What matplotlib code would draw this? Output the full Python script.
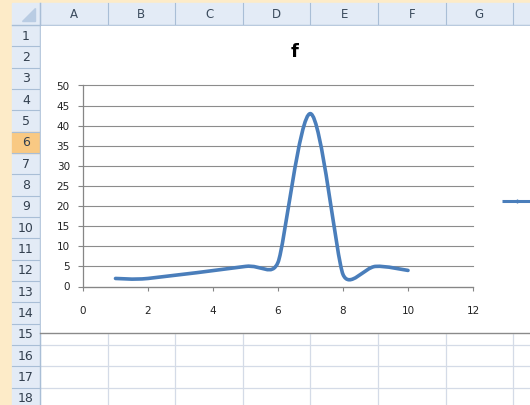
import numpy as np
import matplotlib
matplotlib.use("Agg")
import matplotlib.pyplot as plt
from matplotlib.path import Path
from matplotlib.patches import PathPatch, Rectangle, Polygon

# ---- data ----
x_vals = [1, 2, 5, 6, 7, 8, 9, 10]
y_vals = [2, 2, 5, 6, 43, 3, 5, 4]
chart_title = "f"
x_ticks = [0, 2, 4, 6, 8, 10, 12]
y_ticks = [0, 5, 10, 15, 20, 25, 30, 35, 40, 45, 50]
col_labels = ["A", "B", "C", "D", "E", "F", "G"]
row_labels = [str(i) for i in range(1, 19)]
selected_row = "6"

W, H = 530, 405
fig = plt.figure(figsize=(W / 100, H / 100), dpi=100)

# background axes in pixel coordinates
bg = fig.add_axes([0, 0, 1, 1])
bg.set_xlim(0, W)
bg.set_ylim(H, 0)
bg.axis("off")

beige = "#FDEBC8"
hdr = "#E3EBF6"
hdr_line = "#A9BED6"
cell_line = "#D4DBE7"
bg.add_patch(Rectangle((0, 0), W, H, color=beige, zorder=0))
# cells area
bg.add_patch(Rectangle((40, 25), W - 40, H - 25, color="white", zorder=1))

col_left = 40.0
col_w = 67.6
row_top = 25.0
row_h = 21.33
hdr_top = 3.0

# column header
bg.add_patch(Rectangle((12, hdr_top), W - 12, row_top - hdr_top, color=hdr, zorder=2))
# row header
bg.add_patch(Rectangle((12, row_top), col_left - 12, H - row_top, color=hdr, zorder=2))
# selected row
ri = row_labels.index(selected_row)
bg.add_patch(Rectangle((12, row_top + ri * row_h), col_left - 12, row_h,
                       color="#F9C983", zorder=3))
# corner triangle
bg.add_patch(Polygon([[35, 8], [35, 21], [22, 21]], closed=True,
                     color="#B9CCE3", zorder=3))

# column header separators & labels
for i in range(len(col_labels) + 2):
    xb = col_left + i * col_w
    bg.plot([xb, xb], [hdr_top, row_top], color=hdr_line, lw=0.8, zorder=4)
for i, lab in enumerate(col_labels):
    bg.text(col_left + (i + 0.5) * col_w, 14.5, lab, ha="center", va="center",
            fontsize=8.5, color="#3A4A5C", zorder=5)
bg.plot([12, W], [row_top, row_top], color=hdr_line, lw=1.0, zorder=4)
bg.plot([col_left, col_left], [hdr_top, H], color=hdr_line, lw=1.0, zorder=4)

# row header separators & labels
for i, lab in enumerate(row_labels):
    yt = row_top + i * row_h
    bg.plot([12, col_left], [yt + row_h, yt + row_h], color=hdr_line, lw=0.8, zorder=4)
    bg.text(26, yt + row_h / 2 + 0.5, lab, ha="center", va="center",
            fontsize=9, color="#33404F", zorder=5)

# cell gridlines below chart
chart_bottom = 333
for i in range(16, 19):
    yt = row_top + (i - 1) * row_h
    bg.plot([col_left, W], [yt, yt], color=cell_line, lw=0.9, zorder=2)
for i in range(1, len(col_labels) + 2):
    xb = col_left + i * col_w
    bg.plot([xb, xb], [chart_bottom, H], color=cell_line, lw=0.9, zorder=2)

# chart area (white) and its bottom border
bg.add_patch(Rectangle((col_left + 0.5, row_top + 0.5), W - col_left, chart_bottom - row_top - 0.5,
                       color="white", zorder=6))
bg.plot([col_left, W], [chart_bottom, chart_bottom], color="#8A8A8A", lw=1.0, zorder=7)

# legend stub at right
bg.plot([502, W], [201, 201], color="#4A7EBB", lw=2.2, zorder=8, solid_capstyle="butt")
bg.plot([517], [201], marker="|", ms=3, color="#4A7EBB", zorder=8)

# title
fig.text(295 / W, 1 - 52 / H, chart_title, ha="center", va="center",
         fontsize=13, fontweight="bold", color="black")

# ---- plot axes ----
x0, x1 = 83, 473
y0, y1 = 286.5, 85.5
ax = fig.add_axes([x0 / W, (H - y0) / H, (x1 - x0) / W, (y0 - y1) / H])
ax.set_facecolor("none")
ax.set_xlim(0, 12)
ax.set_ylim(0, 50)
ax.set_xticks(x_ticks)
ax.set_yticks(y_ticks)
ax.set_xticklabels([str(t) for t in x_ticks])
ax.set_yticklabels([str(t) for t in y_ticks])
for s in ["top", "right"]:
    ax.spines[s].set_visible(False)
for s in ["left", "bottom"]:
    ax.spines[s].set_color("#868686")
    ax.spines[s].set_linewidth(0.9)
ax.yaxis.grid(True, color="#8C8C8C", lw=0.8)
for gl in ax.get_ygridlines():
    gl.set_clip_on(False)
ax.set_axisbelow(True)
ax.tick_params(axis="y", length=3.5, width=0.8, color="#868686", pad=6,
               labelsize=7.5, labelcolor="#222222")
ax.tick_params(axis="x", length=3.2, width=0.8, color="#868686", pad=11,
               labelsize=7.5, labelcolor="#222222")

# Excel-style smoothed line (Bezier through data points)
P = ax.transData.transform(np.column_stack([x_vals, y_vals]))
n = len(P)


def ctrl_factor(a, b, c):
    dac = np.hypot(*(c - a))
    if dac == 0:
        return 0.0
    f = 1 / 6
    dab = np.hypot(*(b - a))
    dbc = np.hypot(*(c - b))
    if dab > 0:
        f = min(f, dab / (2 * dac))
    if dbc > 0:
        f = min(f, dbc / (2 * dac))
    return f


verts = [P[0]]
codes = [Path.MOVETO]
for i in range(n - 1):
    p0 = P[i - 1] if i > 0 else P[i]
    p1 = P[i]
    p2 = P[i + 1]
    p3 = P[i + 2] if i + 2 < n else P[i + 1]
    c1 = p1 + ctrl_factor(p0, p1, p2) * (p2 - p0)
    c2 = p2 - ctrl_factor(p1, p2, p3) * (p3 - p1)
    verts += [c1, c2, p2]
    codes += [Path.CURVE4] * 3
verts = ax.transData.inverted().transform(np.array(verts))
patch = PathPatch(Path(verts, codes), facecolor="none", edgecolor="#4A7EBB",
                  lw=2.6, capstyle="round", joinstyle="round", clip_on=False, zorder=5)
ax.add_patch(patch)

fig.savefig("out.png", dpi=100)
